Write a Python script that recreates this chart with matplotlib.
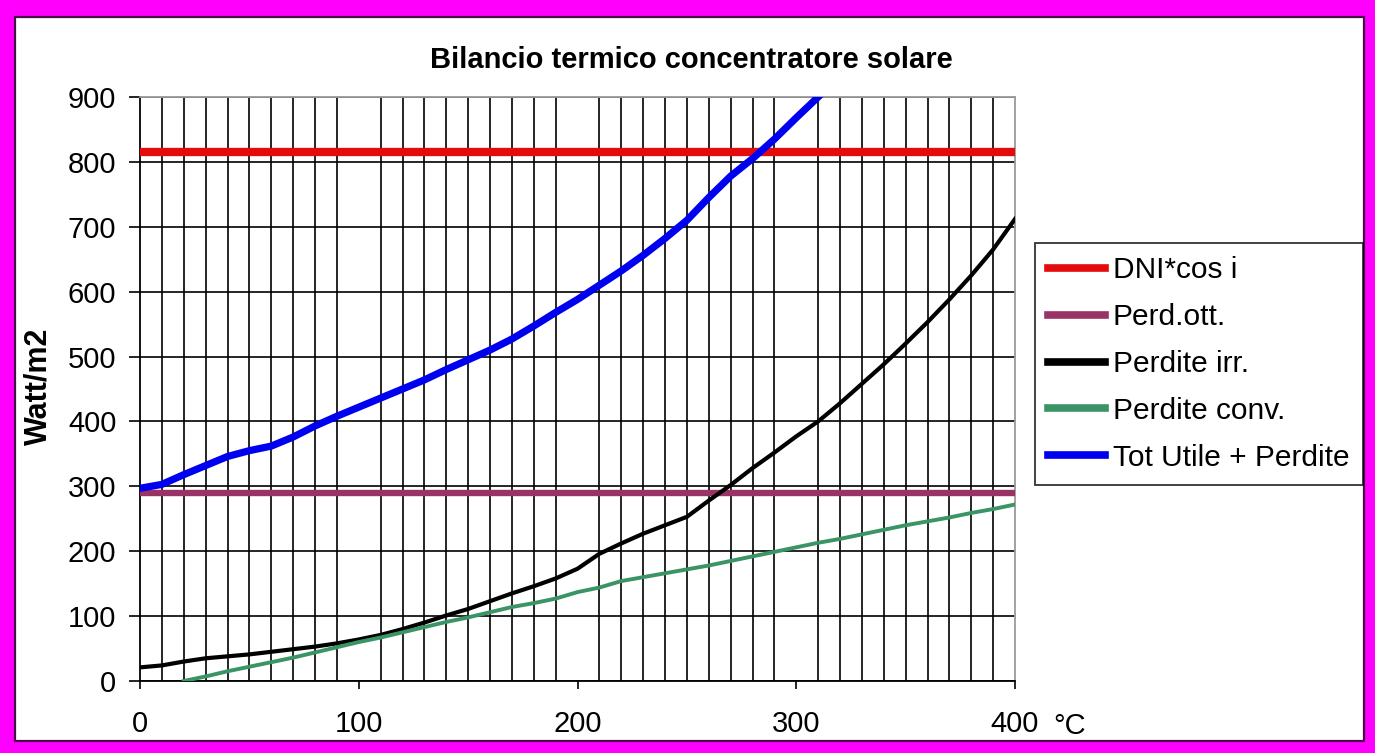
import matplotlib
matplotlib.use("Agg")
import matplotlib.pyplot as plt
from matplotlib.patches import Rectangle
from matplotlib.lines import Line2D
import numpy as np

# ---------------- data ----------------
temp = [0, 10, 20, 30, 40, 50, 60, 70, 80, 90, 100, 110, 120, 130, 140, 150,
        160, 170, 180, 190, 200, 210, 220, 230, 240, 250, 260, 270, 280, 290,
        300, 310, 320, 330, 340, 350, 360, 370, 380, 390, 400]

dni_cos = 815          # DNI*cos i (constant)
perd_ott = 290         # Perd.ott. (constant)

perdite_irr = [21, 24, 30, 35, 38, 41, 45, 49, 53, 58, 64, 71, 80, 90, 101, 111,
               123, 135, 146, 158, 173, 196, 212, 227, 240, 253, 278, 302, 328, 352,
               377, 400, 428, 458, 488, 520, 553, 588, 625, 665, 712]

perdite_conv = [None, None, 0, 7, 15, 22, 29, 36, 44, 52, 60, 67, 75, 83, 91, 98,
                106, 114, 120, 127, 137, 144, 154, 160, 166, 172, 178, 185, 192, 199,
                206, 213, 219, 226, 233, 240, 246, 252, 259, 265, 272]

tot_utile = [297, 303, 318, 332, 346, 355, 362, 376, 393, 408, 422, 436, 450, 464, 480, 495,
             510, 527, 547, 568, 588, 610, 632, 656, 682, 710, 745, 778, 805, 835,
             868, 900, 932, None, None, None, None, None, None, None, None]

series_labels = ["DNI*cos i", "Perd.ott.", "Perdite irr.", "Perdite conv.", "Tot Utile + Perdite"]
title = "Bilancio termico concentratore solare"
y_label = "Watt/m2"
x_unit = "°C"
y_ticks = [0, 100, 200, 300, 400, 500, 600, 700, 800, 900]
x_ticks = [0, 100, 200, 300, 400]

# ---------------- style ----------------
plt.rcParams['font.family'] = ['Liberation Sans', 'DejaVu Sans']

W, H = 1375, 753
fig = plt.figure(figsize=(W / 100, H / 100), dpi=100)
fig.patch.set_facecolor('#FF00FF')

# inner white panel with dark purple edge
il, ir, it, ib = 15, 1364, 17, 741
fig.patches.append(Rectangle((il / W, 1 - ib / H), (ir - il) / W, (ib - it) / H,
                             transform=fig.transFigure, facecolor='white',
                             edgecolor='#4A0A4A', linewidth=1.6, zorder=-10))

ax_l, ax_r, ax_t, ax_b = 140, 1015, 97, 681
ax = fig.add_axes([ax_l / W, 1 - ax_b / H, (ax_r - ax_l) / W, (ax_b - ax_t) / H])
ax.set_zorder(1)
ax.set_facecolor('white')

x = np.array(temp, dtype=float)
irr = np.array([np.nan if v is None else v for v in perdite_irr], dtype=float)
conv = np.array([np.nan if v is None else v for v in perdite_conv], dtype=float)
tot = np.array([np.nan if v is None else v for v in tot_utile], dtype=float)

colors = ['#E30B0B', '#993366', '#000000', '#3A9466', '#0000F0']
ax.plot(x, [dni_cos] * len(temp), color=colors[0], lw=6.0, solid_capstyle='butt', zorder=3)
ax.plot(x, [perd_ott] * len(temp), color=colors[1], lw=4.6, solid_capstyle='butt', zorder=3)
ax.plot(x, irr, color=colors[2], lw=3.0, zorder=4)
ax.plot(x, conv, color=colors[3], lw=2.8, zorder=4)
ax.plot(x, tot, color=colors[4], lw=5.2, zorder=5)

ax.set_xlim(0, 400)
ax.set_ylim(0, 900)

# gridlines
ax.set_xticks(temp, minor=True)
ax.set_xticks(x_ticks)
ax.set_yticks(y_ticks)
ax.grid(True, which='minor', axis='x', color='black', lw=1.2, zorder=1)
ax.grid(True, which='major', axis='y', color='black', lw=1.2, zorder=1)
ax.set_axisbelow(True)
ax.tick_params(axis='x', which='minor', length=0)
ax.tick_params(axis='x', which='major', length=6, width=1.2, direction='out',
               labelsize=21, pad=15, colors='black')
ax.tick_params(axis='y', which='major', length=8, width=1.2, direction='out',
               labelsize=21, pad=9, colors='black')

for s in ['left', 'bottom']:
    ax.spines[s].set_color('black')
    ax.spines[s].set_linewidth(1.3)
for s in ['top', 'right']:
    ax.spines[s].set_color('#9A9A9A')
    ax.spines[s].set_linewidth(1.3)

# title, axis labels
fig.text(691 / W, 1 - 60 / H, title, ha='center', va='center',
         fontsize=21, fontweight='bold')
fig.text(38 / W, 1 - 386 / H, y_label, ha='center', va='center', rotation=90,
         fontsize=22, fontweight='bold')
fig.text(1070 / W, 1 - 726 / H, x_unit, ha='center', va='center', fontsize=21)

# legend
handles = [Line2D([], [], color=c, lw=5.5) for c in colors]
leg = fig.legend(handles, series_labels, loc='upper left',
                 bbox_to_anchor=(1035 / W, 1 - 243 / H), fontsize=21.5,
                 frameon=True, fancybox=False, edgecolor='black',
                 handlelength=1.9, handletextpad=0.25, labelspacing=0.63,
                 borderpad=0.45, borderaxespad=0.0)
leg.get_frame().set_linewidth(1.3)
leg.set_zorder(5)

fig.savefig('out.png', dpi=100, facecolor=fig.get_facecolor())
